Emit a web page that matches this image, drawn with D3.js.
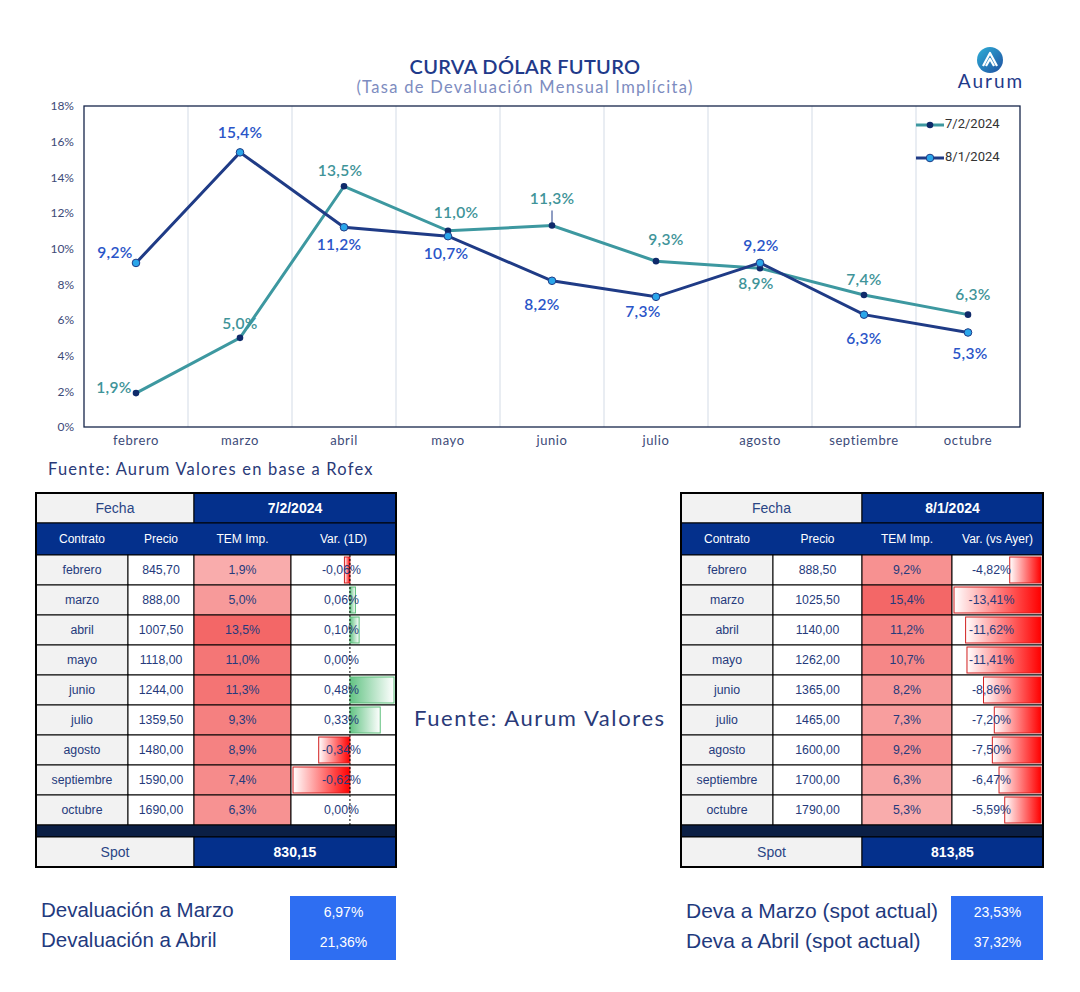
<!DOCTYPE html>
<html><head><meta charset="utf-8">
<script src="https://cdn.jsdelivr.net/npm/d3@7"></script>
<style>
body{margin:0;background:#fff;}
svg{display:block;}
</style></head>
<body>
<svg id="c" width="1080" height="992"></svg>
<script>
// ---------- DATA ----------
const months = ["febrero","marzo","abril","mayo","junio","julio","agosto","septiembre","octubre"];
const seriesNames = ["7/2/2024","8/1/2024"];
const tem1 = [1.9,5.0,13.5,11.0,11.3,9.3,8.9,7.4,6.3];
const tem2 = [9.2,15.4,11.2,10.7,8.2,7.3,9.2,6.3,5.3];
const yTicks = [0,2,4,6,8,10,12,14,16,18];
const precio1 = ["845,70","888,00","1007,50","1118,00","1244,00","1359,50","1480,00","1590,00","1690,00"];
const precio2 = ["888,50","1025,50","1140,00","1262,00","1365,00","1465,00","1600,00","1700,00","1790,00"];
const var1 = [-0.06,0.06,0.10,0.00,0.48,0.33,-0.34,-0.62,0.00];
const var2 = [-4.82,-13.41,-11.62,-11.41,-8.86,-7.20,-7.50,-6.47,-5.59];
const spot1 = "830,15", spot2 = "813,85";
const deva1Labels = ["Devaluación a Marzo","Devaluación a Abril"];
const deva1Values = ["6,97%","21,36%"];
const deva2Labels = ["Deva a Marzo (spot actual)","Deva a Abril (spot actual)"];
const deva2Values = ["23,53%","37,32%"];

// label placement (offsets in px) for point labels
const lab1 = [[-22,-4],[0,-13],[-4,-14],[8,-17],[0,-25],[10,-20],[-4,17],[0,-14],[5,-19]];
const lab2 = [[-21,-9],[0,-18],[-5,19],[-2,19],[-10,25],[-13,16],[1,-16],[0,25],[2,23]];

const fmt = (v,d) => v.toFixed(d).replace(".",",");

const svg = d3.select("#c");
const RF = "'Lato','Noto Sans',sans-serif";
const AF = "'Liberation Sans',Arial,sans-serif";

// ---------- TITLE ----------
svg.append("text").attr("x",525).attr("y",74).attr("text-anchor","middle")
  .attr("font-family",RF).attr("font-size",20).attr("font-weight",600).attr("fill","#1f3a8a")
  .attr("letter-spacing","0.3px").text("CURVA DÓLAR FUTURO");
svg.append("text").attr("x",525).attr("y",93).attr("text-anchor","middle")
  .attr("font-family",RF).attr("font-size",16.5).attr("fill","#7d8cc0").attr("letter-spacing","1.3px")
  .text("(Tasa de Devaluación Mensual Implícita)");

// logo
const defs = svg.append("defs");
const lg = defs.append("linearGradient").attr("id","lg").attr("x1","0").attr("y1","0").attr("x2","1").attr("y2","1");
lg.append("stop").attr("offset","0").attr("stop-color","#2fb0d8");
lg.append("stop").attr("offset","1").attr("stop-color","#1f4fa0");
svg.append("circle").attr("cx",990).attr("cy",60).attr("r",13).attr("fill","url(#lg)");
svg.append("path").attr("d","M983,66 L990,53 L997,66 M986,66 L990,59 L994,66").attr("fill","none")
  .attr("stroke","#fff").attr("stroke-width",2.2).attr("stroke-linejoin","round");
svg.append("text").attr("x",991).attr("y",88).attr("text-anchor","middle")
  .attr("font-family",RF).attr("font-size",19).attr("fill","#1f3a8a").attr("letter-spacing","2px").text("Aurum");

// ---------- CHART ----------
const L=84, R=1020, T=106, B=427;
const x = d3.scaleBand().domain(months).range([L,R]);
const y = d3.scaleLinear().domain([0,18]).range([B,T]);

svg.append("g").selectAll("line").data(months.slice(1)).join("line")
  .attr("x1",d=>x(d)).attr("x2",d=>x(d)).attr("y1",T).attr("y2",B)
  .attr("stroke","#d3dbe6").attr("stroke-width",1);

svg.append("rect").attr("x",L).attr("y",T).attr("width",R-L).attr("height",B-T)
  .attr("fill","none").attr("stroke","#16264a").attr("stroke-width",1.3);

const ya = svg.append("g").attr("transform",`translate(${L},0)`)
  .call(d3.axisLeft(y).tickValues(yTicks).tickFormat(d=>d+"%").tickSize(0).tickPadding(10));
ya.select(".domain").remove();
ya.selectAll("text").attr("font-family",RF).attr("font-size",12).attr("fill","#3c4a78");

const xa = svg.append("g").attr("transform",`translate(0,${B})`)
  .call(d3.axisBottom(x).tickSize(0).tickPadding(9));
xa.select(".domain").remove();
xa.selectAll("text").attr("font-family",RF).attr("font-size",13).attr("fill","#3c4a78").attr("letter-spacing","0.6px");

const cx = m => x(m)+x.bandwidth()/2;
const line = d3.line().x((d,i)=>cx(months[i])).y(d=>y(d));

svg.append("path").datum(tem1).attr("d",line).attr("fill","none").attr("stroke","#3d98a0").attr("stroke-width",3);
svg.append("path").datum(tem2).attr("d",line).attr("fill","none").attr("stroke","#1f3b86").attr("stroke-width",3);

svg.append("line").attr("x1",cx("junio")).attr("x2",cx("junio")).attr("y1",y(tem1[4])).attr("y2",y(tem1[4])-15)
  .attr("stroke","#1f3b86").attr("stroke-width",1);

svg.append("g").selectAll("circle").data(tem1).join("circle")
  .attr("cx",(d,i)=>cx(months[i])).attr("cy",d=>y(d)).attr("r",3.3).attr("fill","#0f2a6a");
svg.append("g").selectAll("circle").data(tem2).join("circle")
  .attr("cx",(d,i)=>cx(months[i])).attr("cy",d=>y(d)).attr("r",3.8).attr("fill","#2aa6ea").attr("stroke","#1f3b86").attr("stroke-width",1);

function labels(data, offs, color){
  svg.append("g").selectAll("text").data(data).join("text")
    .attr("x",(d,i)=>cx(months[i])+offs[i][0]).attr("y",(d,i)=>y(d)+offs[i][1])
    .attr("text-anchor","middle").attr("dominant-baseline","middle")
    .attr("font-family",RF).attr("font-size",15.5).attr("font-weight",600).attr("fill",color)
    .attr("letter-spacing","0.3px").text(d=>fmt(d,1)+"%");
}
labels(tem1, lab1, "#3f9499");
labels(tem2, lab2, "#2a55c8");

const legY=[125,158];
seriesNames.forEach((s,i)=>{
  const g=svg.append("g");
  g.append("line").attr("x1",916).attr("x2",944).attr("y1",legY[i]).attr("y2",legY[i])
   .attr("stroke",i?"#1f3b86":"#3d98a0").attr("stroke-width",3);
  g.append("circle").attr("cx",930).attr("cy",legY[i]).attr("r",i?3.8:3.3)
   .attr("fill",i?"#2aa6ea":"#0f2a6a").attr("stroke",i?"#1f3b86":"none");
  g.append("text").attr("x",945).attr("y",legY[i]).attr("dominant-baseline","middle")
   .attr("font-family","Roboto,sans-serif").attr("font-size",13).attr("fill","#333").text(s);
});

svg.append("text").attr("x",48).attr("y",475).attr("font-family",RF).attr("font-size",16.5)
  .attr("fill","#2a3a78").attr("letter-spacing","1.2px").text("Fuente: Aurum Valores en base a Rofex");

svg.append("text").attr("x",414).attr("y",726).attr("font-family",RF).attr("font-size",22)
  .attr("fill","#2a3a78").attr("letter-spacing","1.6px").text("Fuente: Aurum Valores");

// ---------- TABLES ----------
const NAVY="#04308c", TXT="#253a7c";
function table(opt){
  const g = svg.append("g");
  const [c0,c1,c2,c3,c4] = opt.cols;
  const top=493, h1=30, h2=32, rh=30;
  const rowTop = top+h1+h2;
  g.append("rect").attr("x",c0).attr("y",top).attr("width",c2-c0).attr("height",h1).attr("fill","#f2f2f2").attr("stroke","#000");
  g.append("rect").attr("x",c2).attr("y",top).attr("width",c4-c2).attr("height",h1).attr("fill",NAVY).attr("stroke","#000");
  g.append("text").attr("x",(c0+c2)/2).attr("y",top+h1/2+1).attr("text-anchor","middle").attr("dominant-baseline","middle")
    .attr("font-family",AF).attr("font-size",14).attr("fill","#2a4585").text("Fecha");
  g.append("text").attr("x",(c2+c4)/2).attr("y",top+h1/2+1).attr("text-anchor","middle").attr("dominant-baseline","middle")
    .attr("font-family",AF).attr("font-size",14).attr("font-weight",700).attr("fill","#fff").text(opt.date);
  g.append("rect").attr("x",c0).attr("y",top+h1).attr("width",c4-c0).attr("height",h2).attr("fill",NAVY).attr("stroke","#000");
  const heads=["Contrato","Precio","TEM Imp.",opt.varHead];
  const cols=opt.cols;
  heads.forEach((hd,i)=>{
    g.append("text").attr("x",(cols[i]+cols[i+1])/2).attr("y",top+h1+h2/2+1).attr("text-anchor","middle").attr("dominant-baseline","middle")
     .attr("font-family",AF).attr("font-size",12).attr("fill","#fff").text(hd);
  });
  const heat = d3.scaleLinear().domain(d3.extent(opt.tem)).range(["#f9acac","#f36767"]);
  const vmin=Math.min(0,d3.min(opt.vars)), vmax=Math.max(0,d3.max(opt.vars));
  const vx = d3.scaleLinear().domain([vmin,vmax]).range([c3+2,c4-2]);
  months.forEach((m,i)=>{
    const yy=rowTop+i*rh;
    g.append("rect").attr("x",c0).attr("y",yy).attr("width",c1-c0).attr("height",rh).attr("fill","#f2f2f2").attr("stroke","#000");
    g.append("rect").attr("x",c1).attr("y",yy).attr("width",c2-c1).attr("height",rh).attr("fill","#fff").attr("stroke","#000");
    g.append("rect").attr("x",c2).attr("y",yy).attr("width",c3-c2).attr("height",rh).attr("fill",heat(opt.tem[i])).attr("stroke","#000");
    g.append("rect").attr("x",c3).attr("y",yy).attr("width",c4-c3).attr("height",rh).attr("fill","#fff").attr("stroke","#000");
    const v=opt.vars[i];
    if(v!==0){
      const x0=vx(Math.min(v,0)), x1=vx(Math.max(v,0));
      g.append("rect").attr("x",x0).attr("y",yy+2).attr("width",x1-x0).attr("height",rh-4)
        .attr("fill",v<0?"url(#gneg)":"url(#gpos)").attr("stroke",v<0?"#d21f1f":"#5cbf7a").attr("stroke-width",1);
    }
    const vals=[m,opt.precio[i],fmt(opt.tem[i],1)+"%",fmt(v,2)+"%"];
    vals.forEach((t,j)=>{
      g.append("text").attr("x",(cols[j]+cols[j+1])/2+(j===3?opt.varShift:0)).attr("y",yy+rh/2+1)
       .attr("text-anchor","middle").attr("dominant-baseline","middle")
       .attr("font-family",AF).attr("font-size",12.3).attr("fill",TXT).text(t);
    });
  });
  if(opt.axisLine){
    g.append("line").attr("x1",vx(0)).attr("x2",vx(0)).attr("y1",rowTop).attr("y2",rowTop+9*rh)
     .attr("stroke","#000").attr("stroke-dasharray","2,2").attr("stroke-width",1);
  }
  const by=rowTop+9*rh;
  g.append("rect").attr("x",c0).attr("y",by).attr("width",c4-c0).attr("height",12).attr("fill","#0b1f45").attr("stroke","#000");
  g.append("rect").attr("x",c0).attr("y",by+12).attr("width",c2-c0).attr("height",30).attr("fill","#f2f2f2").attr("stroke","#000");
  g.append("rect").attr("x",c2).attr("y",by+12).attr("width",c4-c2).attr("height",30).attr("fill",NAVY).attr("stroke","#000");
  g.append("text").attr("x",(c0+c2)/2).attr("y",by+28).attr("text-anchor","middle").attr("dominant-baseline","middle")
    .attr("font-family",AF).attr("font-size",14).attr("fill","#2a4585").text("Spot");
  g.append("text").attr("x",(c2+c4)/2).attr("y",by+28).attr("text-anchor","middle").attr("dominant-baseline","middle")
    .attr("font-family",AF).attr("font-size",14).attr("font-weight",700).attr("fill","#fff").text(opt.spot);
  g.append("rect").attr("x",c0).attr("y",top).attr("width",c4-c0).attr("height",by+42-top)
    .attr("fill","none").attr("stroke","#000").attr("stroke-width",2);

  opt.devaL.forEach((t,i)=>{
    g.append("text").attr("x",c0+5).attr("y",912+i*30).attr("dominant-baseline","middle")
      .attr("font-family",AF).attr("font-size",opt.devaSize).attr("fill","#1f3a7e").text(t);
  });
  g.append("rect").attr("x",c3-1).attr("y",896).attr("width",c4-c3+1).attr("height",64).attr("fill","#2e6ef2");
  opt.devaV.forEach((t,i)=>{
    g.append("text").attr("x",(c3+c4)/2).attr("y",913+i*30).attr("text-anchor","middle").attr("dominant-baseline","middle")
      .attr("font-family",AF).attr("font-size",14).attr("fill","#fff").text(t);
  });
}
const gn = defs.append("linearGradient").attr("id","gneg");
gn.append("stop").attr("offset","0").attr("stop-color","#ffffff");
gn.append("stop").attr("offset","1").attr("stop-color","#ff0000");
const gp = defs.append("linearGradient").attr("id","gpos");
gp.append("stop").attr("offset","0").attr("stop-color","#63c384");
gp.append("stop").attr("offset","1").attr("stop-color","#ffffff");

table({cols:[36,128,194,291,396], date:"7/2/2024", varHead:"Var. (1D)", tem:tem1, precio:precio1, vars:var1,
  spot:spot1, axisLine:true, varShift:-2, devaL:deva1Labels, devaV:deva1Values, devaSize:20.5});
table({cols:[681,773,862,952,1043], date:"8/1/2024", varHead:"Var. (vs Ayer)", tem:tem2, precio:precio2, vars:var2,
  spot:spot2, axisLine:false, varShift:-6, devaL:deva2Labels, devaV:deva2Values, devaSize:21});
</script>
</body></html>
